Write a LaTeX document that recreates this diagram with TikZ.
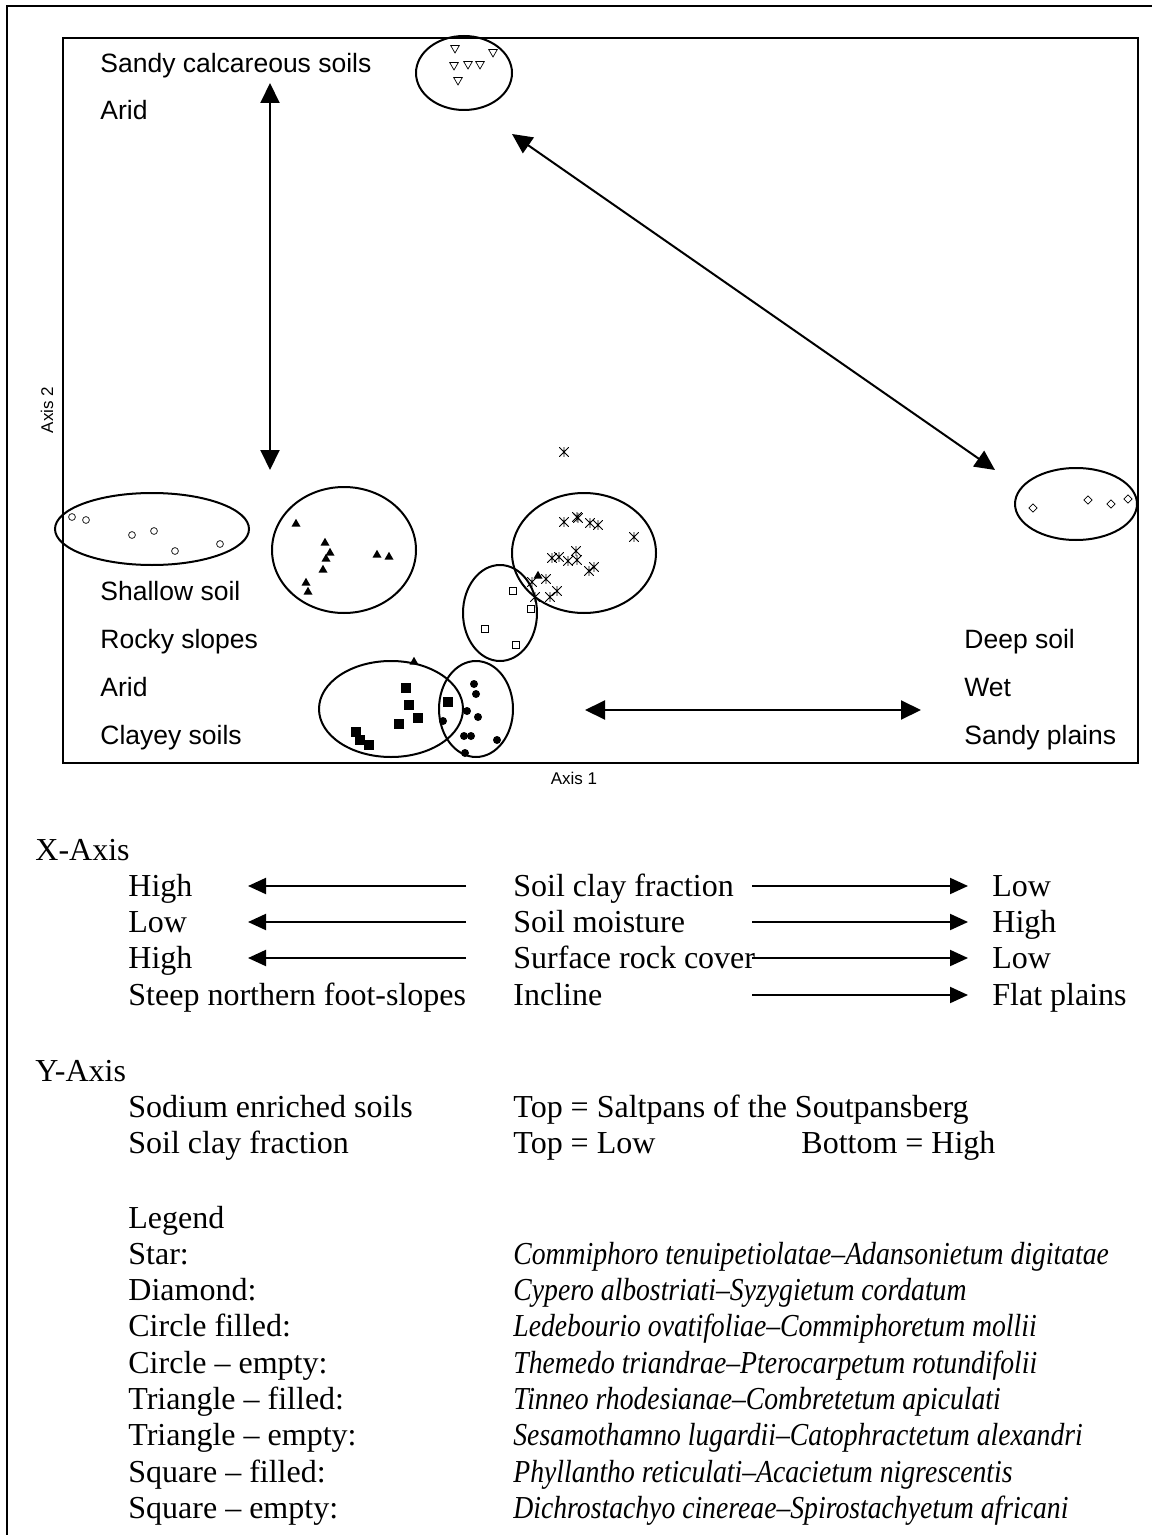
\documentclass[tikz,border=0pt]{standalone}
\usepackage{fontspec}
\setmainfont{Liberation Serif}
\newfontfamily\plotfont{Liberation Sans}
\newfontfamily\latfont{Liberation Serif}[Ligatures=TeX,FakeStretch=0.865]
\usetikzlibrary{arrows.meta,shapes.geometric}

\begin{document}
\begin{tikzpicture}[x=0.5pt,y=-0.5pt,
  lbl/.style={anchor=base west,inner sep=0pt,font=\plotfont\fontsize{13.25}{15}\selectfont},
  txt/.style={anchor=base west,inner sep=0pt,font=\fontsize{16}{19}\selectfont},
  axl/.style={inner sep=0pt,font=\plotfont\fontsize{8.5}{10}\selectfont},
  grp/.style={line width=1pt},
  dbl/.style={{Triangle[length=10pt,width=9.5pt]}-{Triangle[length=10pt,width=9.5pt]},line width=1pt},
  one/.style={-{Triangle[length=9pt,width=8pt]},line width=1pt},
  tre/.style={regular polygon,regular polygon sides=3,shape border rotate=180,draw,line width=0.35pt,inner sep=0pt,minimum size=5pt},
  trf/.style={regular polygon,regular polygon sides=3,fill,inner sep=0pt,minimum size=5.2pt},
  cie/.style={circle,draw,line width=0.35pt,inner sep=0pt,minimum size=3.4pt},
  cif/.style={circle,fill,inner sep=0pt,minimum size=4pt},
  sqe/.style={rectangle,draw,line width=0.35pt,inner sep=0pt,minimum size=3.4pt},
  sqf/.style={rectangle,fill,inner sep=0pt,minimum size=4.6pt},
  dia/.style={diamond,draw,line width=0.35pt,inner sep=0pt,minimum size=4.2pt},
  stm/.style={inner sep=0pt,minimum size=4.8pt,path picture={
    \draw[line width=0.4pt] (path picture bounding box.north west) -- (path picture bounding box.south east)
      (path picture bounding box.south west) -- (path picture bounding box.north east)
      (path picture bounding box.north) -- (path picture bounding box.south);}}
]
  \useasboundingbox (0,0) rectangle (1152,1535);
  % outer frame and plot frame
  \draw[line width=1.2pt] (7,1535) -- (7,6) -- (1152,6);
  \draw[grp] (63,38) rectangle (1138,763);
  \node[axl] (ax1) at (574,778) {Axis 1};
  \node[axl,rotate=90] (ax2) at (47,410) {Axis 2};

  % labels inside the plot
  \node[lbl] (tl1) at (100,73) {Sandy calcareous soils};
  \node[lbl] (tl2) at (100,120) {Arid};
  \node[lbl] (bl1) at (100,600) {Shallow soil};
  \node[lbl] (bl2) at (100,648) {Rocky slopes};
  \node[lbl] (bl3) at (100,696) {Arid};
  \node[lbl] (bl4) at (100,744) {Clayey soils};
  \node[lbl] (br1) at (964,648) {Deep soil};
  \node[lbl] (br2) at (964,696) {Wet};
  \node[lbl] (br3) at (964,744) {Sandy plains};

  % gradient arrows
  \coordinate (vt) at (270,83);
  \coordinate (vb) at (270,470);
  \coordinate (dt) at (512,134);
  \coordinate (db) at (995,470);
  \coordinate (hl) at (585,710);
  \coordinate (hr) at (921,710);
  \draw[dbl] (vt) -- (vb);
  \draw[dbl] (dt) -- (db);
  \draw[dbl] (hl) -- (hr);

  % groups
  \draw[grp] (464,73) ellipse [x radius=48, y radius=37];
  \draw[grp] (152,529) ellipse [x radius=97, y radius=36];
  \draw[grp] (344,550) ellipse [x radius=72, y radius=63];
  \draw[grp] (584,553) ellipse [x radius=72, y radius=60];
  \draw[grp] (500,613) ellipse [x radius=37, y radius=48];
  \draw[grp] (391,709) ellipse [x radius=72, y radius=48];
  \draw[grp] (476,709) ellipse [x radius=37, y radius=48];
  \draw[grp] (1076,504) ellipse [x radius=61, y radius=36];

  % samples
  \foreach \p [count=\i] in {(455,48),(493,52),(454,65),(468,64),(480,64),(458,80)}
    \node[tre] (te\i) at \p {};
  \foreach \p [count=\i] in {(72,517),(86,520),(132,535),(154,531),(175,551),(220,544)}
    \node[cie] (ce\i) at \p {};
  \foreach \p [count=\i] in {(296,524),(325,543),(330,553),(326,559),(323,570),(306,583),(308,592),
      (377,555),(389,557),(538,576),(414,662)}
    \node[trf] (tf\i) at \p {};
  \foreach \p [count=\i] in {(564,452),(564,522),(577,517),(578,518),(590,523),(598,525),(634,537),
      (576,551),(552,558),(559,557),(568,561),(577,560),(589,571),(594,567),(546,579),(532,582),
      (535,597),(550,597),(557,591)}
    \node[stm] (st\i) at \p {};
  \foreach \p [count=\i] in {(513,591),(531,609),(485,629),(516,645)}
    \node[sqe] (se\i) at \p {};
  \foreach \p [count=\i] in {(406,688),(409,705),(418,718),(399,724),(356,732),(360,740),(369,745),(448,702)}
    \node[sqf] (sf\i) at \p {};
  \foreach \p [count=\i] in {(474,684),(476,694),(467,711),(478,717),(443,721),(464,736),(471,736),
      (497,740),(465,753)}
    \node[cif] (cf\i) at \p {};
  \foreach \p [count=\i] in {(1033,508),(1088,500),(1111,504),(1128,499)}
    \node[dia] (di\i) at \p {};

  % X-Axis
  \node[txt] (xax) at (35,860) {X-Axis};
  \node[txt] (x1a) at (128,896) {High};
  \node[txt] (x1b) at (513,896) {Soil clay fraction};
  \node[txt] (x1c) at (992,896) {Low};
  \node[txt] (x2a) at (128,932) {Low};
  \node[txt] (x2b) at (513,932) {Soil moisture};
  \node[txt] (x2c) at (992,932) {High};
  \node[txt] (x3a) at (128,968) {High};
  \node[txt] (x3b) at (513,968) {Surface rock cover};
  \node[txt] (x3c) at (992,968) {Low};
  \node[txt] (x4a) at (128,1005) {Steep northern foot-slopes};
  \node[txt] (x4b) at (513,1005) {Incline};
  \node[txt] (x4c) at (992,1005) {Flat plains};
  \foreach \r/\y in {1/886,2/922,3/958} {
    \coordinate (ls\r) at (466,\y);
    \coordinate (le\r) at (248,\y);
    \draw[one] (ls\r) -- (le\r);
  }
  \foreach \r/\y in {1/886,2/922,3/958,4/995} {
    \coordinate (rs\r) at (752,\y);
    \coordinate (re\r) at (968,\y);
    \draw[one] (rs\r) -- (re\r);
  }

  % Y-Axis
  \node[txt] (yax) at (35,1081) {Y-Axis};
  \node[txt] (y1a) at (128,1117) {Sodium enriched soils};
  \node[txt] (y1b) at (513,1117) {Top = Saltpans of the Soutpansberg};
  \node[txt] (y2a) at (128,1153) {Soil clay fraction};
  \node[txt] (y2b) at (513,1153) {Top = Low};
  \node[txt] (y2c) at (801,1153) {Bottom = High};

  % legend
  \node[txt] (lg) at (128,1228) {Legend};
  \foreach \k/\v [count=\i] in {
      Star:/Commiphoro tenuipetiolatae--Adansonietum digitatae,
      Diamond:/Cypero albostriati--Syzygietum cordatum,
      Circle filled:/Ledebourio ovatifoliae--Commiphoretum mollii,
      Circle -- empty:/Themedo triandrae--Pterocarpetum rotundifolii,
      Triangle -- filled:/Tinneo rhodesianae--Combretetum apiculati,
      Triangle -- empty:/Sesamothamno lugardii--Catophractetum alexandri,
      Square -- filled:/Phyllantho reticulati--Acacietum nigrescentis,
      Square -- empty:/Dichrostachyo cinereae--Spirostachyetum africani} {
    \node[txt] (lk\i) at (128,1228+36.3*\i) {\k};
    \node[txt,font=\latfont\fontsize{16}{19}\selectfont\itshape] (lv\i) at (513,1228+36.3*\i) {\v};
  }
\end{tikzpicture}
\end{document}
